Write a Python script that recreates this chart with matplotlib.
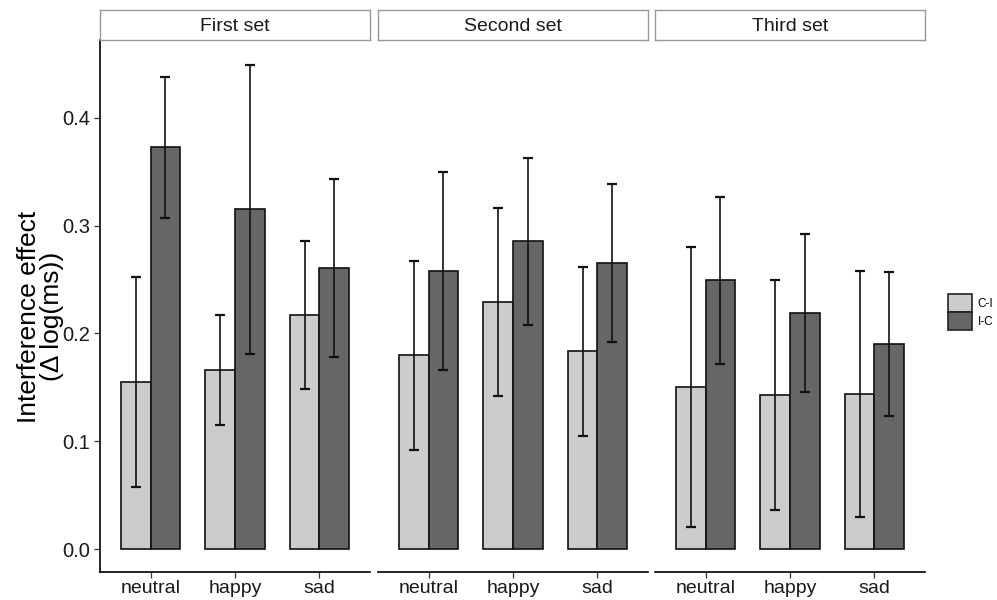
import numpy as np
import matplotlib.pyplot as plt
from matplotlib.patches import Patch

plt.rcParams['font.family'] = ['Liberation Sans', 'DejaVu Sans']

# data
sets = ['First set', 'Second set', 'Third set']
emotions = ['neutral', 'happy', 'sad']
groups = ['C-I', 'I-C']

ci_mean = [[0.155, 0.166, 0.217],
           [0.180, 0.229, 0.184],
           [0.150, 0.143, 0.144]]
ci_low = [[0.058, 0.115, 0.148],
          [0.092, 0.142, 0.105],
          [0.020, 0.036, 0.030]]
ci_high = [[0.252, 0.217, 0.286],
           [0.267, 0.316, 0.262],
           [0.280, 0.250, 0.258]]

ic_mean = [[0.373, 0.315, 0.261],
           [0.258, 0.286, 0.265],
           [0.250, 0.219, 0.190]]
ic_low = [[0.307, 0.181, 0.178],
          [0.166, 0.208, 0.192],
          [0.172, 0.146, 0.123]]
ic_high = [[0.438, 0.449, 0.343],
           [0.350, 0.363, 0.339],
           [0.327, 0.292, 0.257]]

colors = ['#cccccc', '#666666']

W, H = 997, 600
fig = plt.figure(figsize=(W / 100, H / 100), dpi=100)

panel_x = [100, 378, 655]
panel_w = 270
top, bottom = 40, 572
strip_top = 10

bar_w = 0.35
x = np.arange(1, 4)

for k in range(3):
    ax = fig.add_axes([panel_x[k] / W, (H - bottom) / H, panel_w / W, (bottom - top) / H])
    means = [ci_mean[k], ic_mean[k]]
    lows = [ci_low[k], ic_low[k]]
    highs = [ci_high[k], ic_high[k]]
    for g in range(2):
        pos = x + (g - 0.5) * bar_w
        ax.bar(pos, means[g], width=bar_w, color=colors[g], edgecolor='#111111',
               linewidth=1.2, zorder=2)
        m = np.array(means[g])
        lo = m - np.array(lows[g])
        hi = np.array(highs[g]) - m
        ax.errorbar(pos, m, yerr=[lo, hi], fmt='none', ecolor='#111111',
                    elinewidth=1.2, capsize=3.5, capthick=1.6, zorder=3)
    ax.set_xlim(0.4, 3.6)
    ax.set_ylim(-0.0213, 0.4722)
    ax.set_xticks(x)
    ax.set_xticklabels(emotions, fontsize=14, color='#1a1a1a')
    ax.spines['top'].set_visible(False)
    ax.spines['right'].set_visible(False)
    ax.spines['bottom'].set_linewidth(1.2)
    ax.tick_params(axis='x', length=4, width=0.9, color='#333333', pad=2)
    if k == 0:
        ax.set_yticks([0.0, 0.1, 0.2, 0.3, 0.4])
        ax.set_yticklabels(['0.0', '0.1', '0.2', '0.3', '0.4'], fontsize=14.5, color='#1a1a1a')
        ax.tick_params(axis='y', length=4, width=0.9, color='#333333', pad=3)
        ax.spines['left'].set_linewidth(1.2)
        ax.set_ylabel('Interference effect\n(\u0394 log(ms))', fontsize=19,
                      labelpad=3, linespacing=0.95)
        ax.yaxis.set_label_coords(-0.135, 0.48)
    else:
        ax.spines['left'].set_visible(False)
        ax.set_yticks([])

    # facet strip
    sax = fig.add_axes([panel_x[k] / W, (H - top) / H, panel_w / W, (top - strip_top) / H])
    sax.set_xticks([])
    sax.set_yticks([])
    for s in sax.spines.values():
        s.set_color('#999999')
        s.set_linewidth(1.0)
    sax.text(0.5, 0.45, sets[k], ha='center', va='center', fontsize=14,
             color='#1a1a1a', transform=sax.transAxes)

handles = [Patch(facecolor=colors[i], edgecolor='#222222', linewidth=1.2, label=groups[i])
           for i in range(2)]
fig.legend(handles=handles, loc='center left', bbox_to_anchor=(948 / W, 1 - 312 / H),
           frameon=False, fontsize=8.5, handlelength=2.0, handleheight=1.95,
           labelspacing=0.0, handletextpad=0.5, borderpad=0, borderaxespad=0)

fig.savefig('out.png', dpi=100)
